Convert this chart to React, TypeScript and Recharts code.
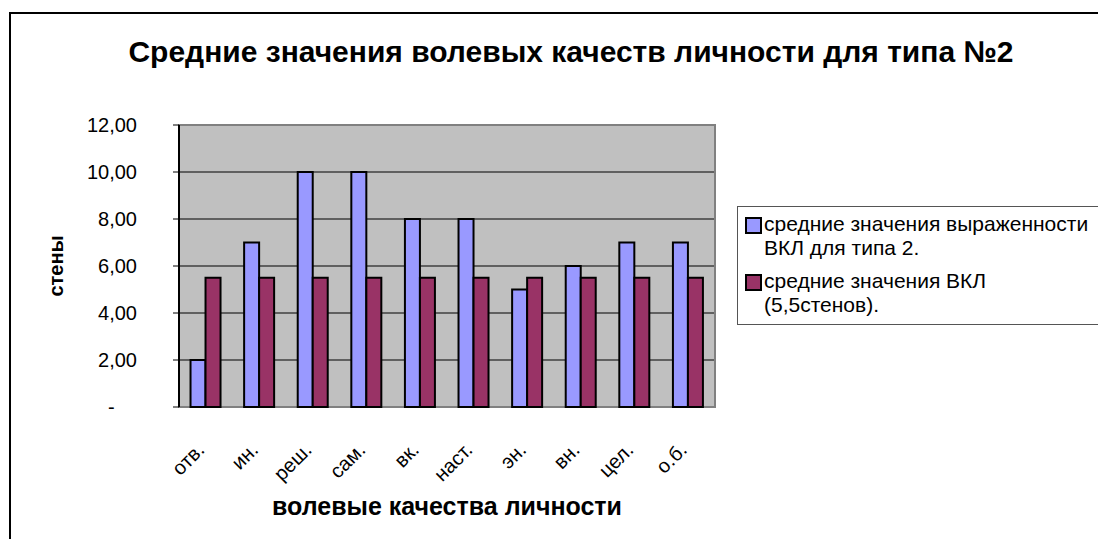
import React from 'react';
import { BarChart, Bar, XAxis, YAxis, CartesianGrid, Legend, ReferenceArea, Label } from 'recharts';

const categories = ['отв.', 'ин.', 'реш.', 'сам.', 'вк.', 'наст.', 'эн.', 'вн.', 'цел.', 'о.б.'];
const type2Values = [2, 7, 10, 10, 8, 8, 5, 6, 7, 7];
const avgValues = [5.5, 5.5, 5.5, 5.5, 5.5, 5.5, 5.5, 5.5, 5.5, 5.5];
const yTicks = [0, 2, 4, 6, 8, 10, 12];
const edgeTicks = [0, 1, 2, 3, 4, 5, 6, 7, 8, 9, 10];
const seriesNames = ['средние значения выраженности\nВКЛ для типа 2.', 'средние значения ВКЛ\n(5,5стенов).'];
const seriesColors = ['#9999FF', '#993366'];

const data = categories.map((c, i) => ({ name: c, type2: type2Values[i], avg: avgValues[i] }));

const FONT = '"Liberation Sans", Arial, sans-serif';

const fmtY = (v: number) => (v === 0 ? '-\u00A0\u00A0\u00A0\u00A0' : v.toFixed(2).replace('.', ','));

const XTick = (props: any) => {
  const { x, y, payload } = props;
  return (
    <g transform={`translate(${x},${y + 36})`}>
      <text transform="rotate(-45)" textAnchor="end" x={0} y={0} fontSize={20} fontFamily={FONT} fill="#000">
        {payload.value}
      </text>
    </g>
  );
};

const LegendContent = (props: any) => {
  const payload = [...(props.payload || [])].sort(
    (a: any, b: any) => seriesNames.indexOf(a.value) - seriesNames.indexOf(b.value)
  );
  return (
    <div style={{ border: '1px solid #555', background: '#fff', padding: '5px 0 7px 7px', width: 400, boxSizing: 'border-box' }}>
      {payload.map((p: any, i: number) => (
        <div key={i} style={{ display: 'flex', alignItems: 'flex-start', marginTop: i === 0 ? 0 : 9 }}>
          <div style={{ width: 13, height: 13, border: '2px solid #000', background: p.color, marginTop: 5, marginRight: 2, flex: 'none' }} />
          <div style={{ whiteSpace: 'pre-line', fontSize: 21, lineHeight: '24px', fontFamily: FONT, color: '#000' }}>{p.value}</div>
        </div>
      ))}
    </div>
  );
};

export default function App() {
  return (
    <div style={{ position: 'absolute', left: 0, top: 0, width: 1098, height: 539, overflow: 'hidden', background: '#fff' }}>
      <div style={{ position: 'absolute', left: 9, top: 12, width: 1200, height: 700, border: '2px solid #000', boxSizing: 'border-box' }} />
      <div style={{ position: 'absolute', left: 0, width: 1142, top: 35, lineHeight: '34px', textAlign: 'center', fontFamily: FONT, fontWeight: 'bold', fontSize: 30, color: '#000' }}>
        Средние значения волевых качеств личности для типа №2
      </div>
      <div style={{ position: 'absolute', left: 0, top: 0 }}>
        <BarChart width={1098} height={539} data={data} margin={{ top: 125, right: 383, left: 0, bottom: 0 }} barCategoryGap="21.5%" barGap={0}>
          <CartesianGrid vertical={false} stroke="#000" strokeWidth={1} fill="#C0C0C0" fillOpacity={1} />
          <ReferenceArea y1={0} y2={12} fill="none" stroke="#808080" strokeWidth={2} ifOverflow="visible" />
          <XAxis xAxisId="edges" type="number" domain={[0, 10]} ticks={edgeTicks} allowDataOverflow height={0} tick={false} tickSize={6} tickLine={{ stroke: '#000' }} axisLine={{ stroke: '#000', strokeWidth: 2 }} />
          <XAxis dataKey="name" height={132} tickLine={false} axisLine={false} interval={0} tick={<XTick />}>
            <Label value="волевые качества личности" position="insideBottom" offset={24} style={{ fontFamily: FONT, fontWeight: 'bold', fontSize: 25, fill: '#000' }} />
          </XAxis>
          <YAxis domain={[0, 12]} ticks={yTicks} width={179} tickFormatter={fmtY} tickSize={6} tickMargin={36} tickLine={{ stroke: '#000' }} axisLine={{ stroke: '#000', strokeWidth: 2 }} tick={{ fontSize: 20, fontFamily: FONT, fill: '#000' }}>
            <Label value="стены" angle={-90} position="insideLeft" offset={56} style={{ fontFamily: FONT, fontWeight: 'bold', fontSize: 20, fill: '#000', textAnchor: 'middle' }} />
          </YAxis>
          <Legend layout="vertical" verticalAlign="middle" align="center" content={<LegendContent />} wrapperStyle={{ left: 737, top: 206, width: 400, height: 'auto' }} />
          <Bar dataKey="type2" name={seriesNames[0]} fill={seriesColors[0]} stroke="#000" strokeWidth={2} isAnimationActive={false} />
          <Bar dataKey="avg" name={seriesNames[1]} fill={seriesColors[1]} stroke="#000" strokeWidth={2} isAnimationActive={false} />
        </BarChart>
      </div>
    </div>
  );
}
